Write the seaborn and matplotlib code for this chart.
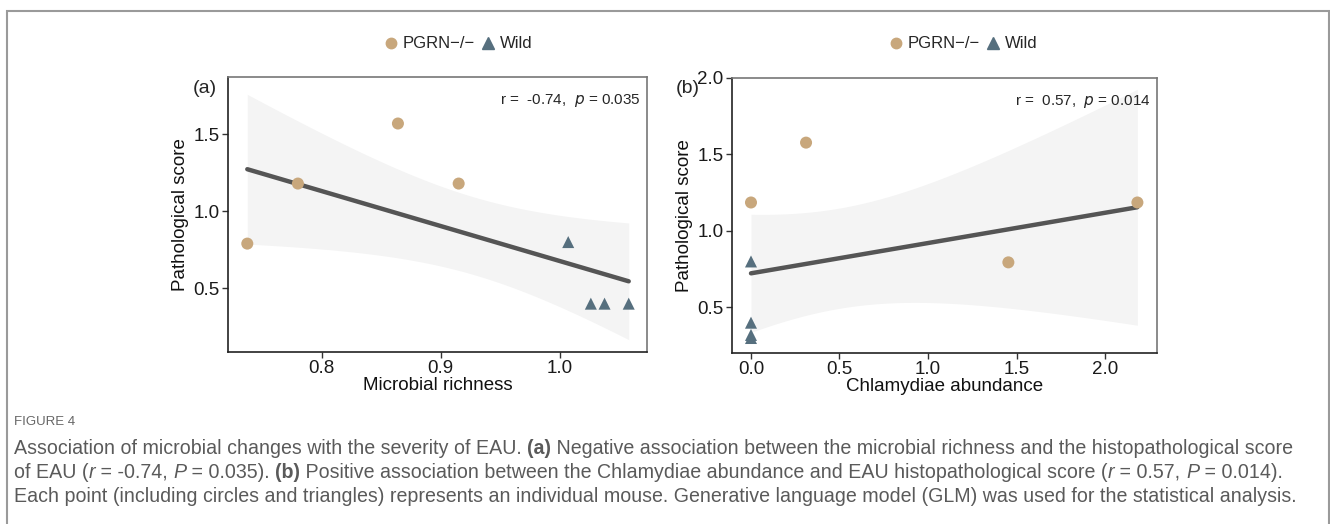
import numpy as np
import pandas as pd
import matplotlib
matplotlib.use("Agg")
import matplotlib.pyplot as plt
from matplotlib.patches import Rectangle
from matplotlib.lines import Line2D
import seaborn as sns

sns.set_style("white")
plt.rcParams['font.family'] = ['Liberation Sans', 'DejaVu Sans']

# ---------------- data ----------------
groups_a = ["PGRN−/−", "PGRN−/−", "PGRN−/−", "PGRN−/−", "Wild", "Wild", "Wild", "Wild"]
richness = [0.7375, 0.780, 0.864, 0.915, 1.007, 1.026, 1.0375, 1.0578]
score_a = [0.79, 1.18, 1.57, 1.18, 0.80, 0.40, 0.40, 0.40]

groups_b = ["PGRN−/−", "PGRN−/−", "PGRN−/−", "PGRN−/−", "Wild", "Wild", "Wild", "Wild"]
chlamydiae = [0.0, 0.311, 1.454, 2.183, 0.0, 0.0, 0.0, 0.0]
score_b = [1.185, 1.576, 0.794, 1.185, 0.80, 0.40, 0.32, 0.30]

xticks_a = [0.8, 0.9, 1.0]
yticks_a = [0.5, 1.0, 1.5]
xticks_b = [0.0, 0.5, 1.0, 1.5, 2.0]
yticks_b = [0.5, 1.0, 1.5, 2.0]

stats_a = ("-0.74", "0.035")
stats_b = ("0.57", "0.014")

C_PGRN = "#C8A77C"
C_WILD = "#566F7E"
palette = {"PGRN−/−": C_PGRN, "Wild": C_WILD}
markers = {"PGRN−/−": "o", "Wild": "^"}
Z_CRIT = 1.959964  # normal quantile, as in a GLM smooth

W, H = 1330, 524
fig = plt.figure(figsize=(W / 100, H / 100), dpi=100)

# outer frame
fig.patches.append(Rectangle((6.5 / W, -0.1), 1322.5 / W, 1 - 11.5 / H + 0.1,
                             transform=fig.transFigure, fill=False,
                             edgecolor="#9a9a9a", linewidth=1.5))

def panel(rect, x, y, g, xlim, ylim, xt, yt, xlabel, tag, tag_x, stats, legend_x):
    ax = fig.add_axes(rect)
    df = pd.DataFrame({"x": x, "y": y, "g": g})
    xa = np.asarray(x, float); ya = np.asarray(y, float)
    n = len(xa)
    b, a = np.polyfit(xa, ya, 1)
    res = ya - (a + b * xa)
    s = np.sqrt(np.sum(res ** 2) / (n - 2))
    grid = np.linspace(xa.min(), xa.max(), 200)
    se = s * np.sqrt(1 / n + (grid - xa.mean()) ** 2 / np.sum((xa - xa.mean()) ** 2))
    fit = a + b * grid
    ax.fill_between(grid, fit - Z_CRIT * se, fit + Z_CRIT * se, color="#f4f4f4", zorder=1, linewidth=0)
    sns.regplot(data=df, x="x", y="y", scatter=False, ci=None, ax=ax,
                line_kws=dict(color="#555555", linewidth=3.2, zorder=2))
    sns.scatterplot(data=df, x="x", y="y", hue="g", style="g", palette=palette,
                    markers=markers, s=75, edgecolor="none", ax=ax, legend=False, zorder=3)
    ax.set_xlim(*xlim); ax.set_ylim(*ylim)
    ax.set_xticks(xt); ax.set_yticks(yt)
    ax.set_xticklabels([f"{v:.1f}" for v in xt], fontsize=13.5, color="#1a1a1a")
    ax.set_yticklabels([f"{v:.1f}" for v in yt], fontsize=13.5, color="#1a1a1a")
    ax.tick_params(axis="both", length=4, width=1, color="#333333", direction="out",
                   bottom=True, left=True, pad=2)
    ax.set_xlabel(xlabel, fontsize=13.5, labelpad=0, color="#111111")
    ax.set_ylabel("Pathological score", fontsize=13.5, labelpad=3, color="#111111")
    for sp in ["left", "bottom"]:
        ax.spines[sp].set_color("#222222"); ax.spines[sp].set_linewidth(1.2)
    for sp in ["top", "right"]:
        ax.spines[sp].set_color("#777777"); ax.spines[sp].set_linewidth(1.2)
    fig.text(tag_x / W, 1 - 88 / H, tag, fontsize=14, ha="left", va="center")
    ax.text(0.985, 0.915, f"r =  {stats[0]},  $p$ = {stats[1]}", transform=ax.transAxes,
            fontsize=11, ha="right", va="center")
    handles = [Line2D([], [], linestyle="none", marker=markers[k], color=palette[k],
                      markersize=8.5 if k == "Wild" else 7.5) for k in ["PGRN−/−", "Wild"]]
    fig.legend(handles, ["PGRN−/−", "Wild"], loc="center", ncol=2,
               bbox_to_anchor=(legend_x, 1 - 44 / H), frameon=False, fontsize=12,
               handletextpad=0.1, columnspacing=0.2, handlelength=1.2)
    return ax

panel([228 / W, 1 - 351.7 / H, 418.7 / W, 275 / H], richness, score_a, groups_a,
      (0.7213, 1.0729), (0.088, 1.874), xticks_a, yticks_a, "Microbial richness", "(a)", 193,
      stats_a, 457 / W)
panel([731.7 / W, 1 - 352.7 / H, 425 / W, 275 / H], chlamydiae, score_b, groups_b,
      (-0.109, 2.292), (0.204, 2.0), xticks_b, yticks_b, "Chlamydiae abundance", "(b)", 676,
      stats_b, 962 / W)

# ---------------- caption ----------------
CAP_COLOR = "#5a5a5a"
CAP_FONT = ['Liberation Sans', 'DejaVu Sans']
fig.text(14 / W, 1 - 422 / H, "FIGURE 4", fontsize=9.5, color="#666666",
         family=CAP_FONT, va="center", ha="left")

lines = [
    [("Association of microbial changes with the severity of EAU. ", "normal", "normal"),
     ("(a)", "bold", "normal"),
     (" Negative association between the microbial richness and the histopathological score", "normal", "normal")],
    [("of EAU (", "normal", "normal"), ("r", "normal", "italic"), (" = -0.74, ", "normal", "normal"),
     ("P", "normal", "italic"), (" = 0.035). ", "normal", "normal"), ("(b)", "bold", "normal"),
     (" Positive association between the Chlamydiae abundance and EAU histopathological score (", "normal", "normal"),
     ("r", "normal", "italic"), (" = 0.57, ", "normal", "normal"), ("P", "normal", "italic"),
     (" = 0.014).", "normal", "normal")],
    [("Each point (including circles and triangles) represents an individual mouse. Generative language model (GLM) was used for the statistical analysis.", "normal", "normal")],
]
line_y = [448, 472, 496]
fig.canvas.draw()
renderer = fig.canvas.get_renderer()

def draw_line(segs, yy, size, draw=True):
    xpix = 14.0
    made = []
    for txt, wt, st in segs:
        t = fig.text(xpix / W, 1 - yy / H, txt, fontsize=size, color=CAP_COLOR,
                     family=CAP_FONT, weight=wt, style=st, va="center", ha="left")
        xpix += t.get_window_extent(renderer=renderer).width
        made.append(t)
    if not draw:
        for t in made:
            t.remove()
    return xpix - 14.0

base = 12.0
w1 = draw_line(lines[0], line_y[0], base, draw=False)
size = base * 1276.0 / w1
for segs, yy in zip(lines, line_y):
    draw_line(segs, yy, size)

fig.savefig("out.png", dpi=100)
